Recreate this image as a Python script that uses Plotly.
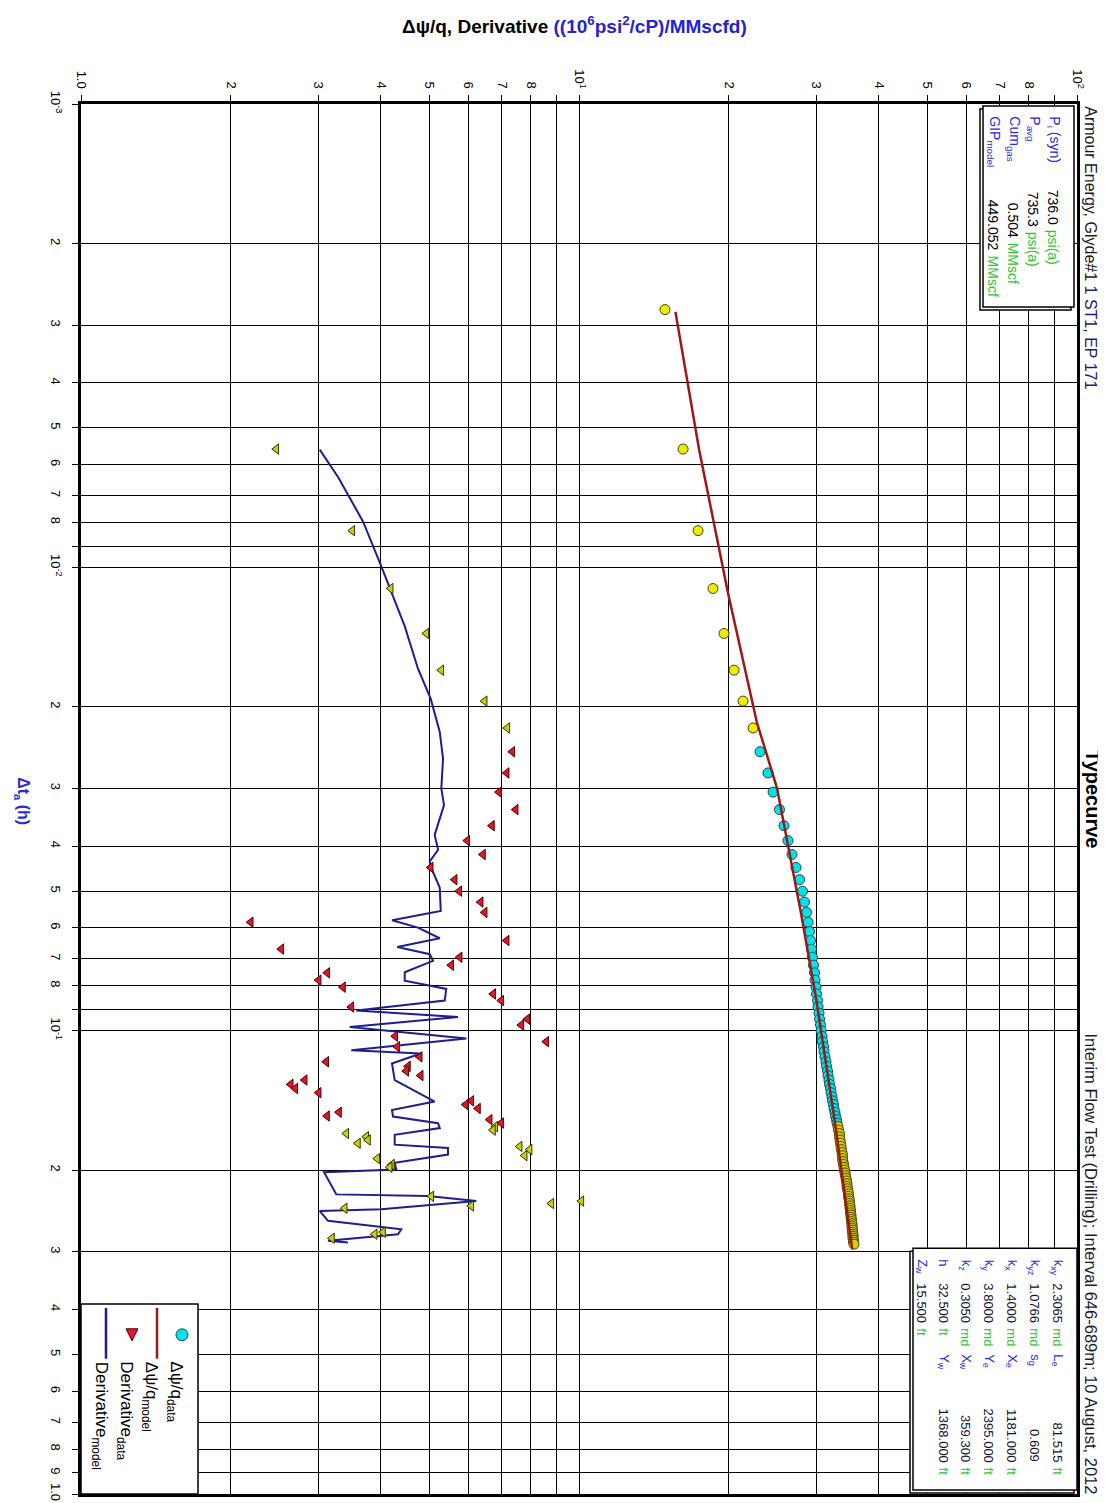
import plotly.graph_objects as go

# ---------------- data ----------------
# Δψ/q data (circles); time in hours
t_q_excl_early = [0.002778, 0.005556, 0.008333, 0.01111, 0.01389, 0.01667, 0.01944, 0.02222]
q_excl_early = [14.88, 16.18, 17.34, 18.58, 19.55, 20.48, 21.35, 22.36]

t_q_match = [0.025, 0.02778, 0.03056, 0.03333, 0.03611, 0.03889, 0.04167, 0.04444, 0.04722, 0.05,
             0.05278, 0.05556, 0.05833, 0.06111, 0.06389, 0.06667, 0.06944, 0.07222, 0.075, 0.07778,
             0.08056, 0.08333, 0.08611, 0.08889, 0.09167, 0.09444, 0.09722, 0.1, 0.1028, 0.1056,
             0.1083, 0.1111, 0.1139, 0.1167, 0.1194, 0.1222, 0.125, 0.1278, 0.1306, 0.1333,
             0.1361, 0.1389, 0.1417, 0.1444, 0.1472, 0.15, 0.1528, 0.1556, 0.1583]
q_match = [23.09, 23.96, 24.53, 25.27, 25.80, 26.28, 26.77, 27.27, 27.72, 28.10,
           28.36, 28.63, 28.83, 29.03, 29.16, 29.30, 29.43, 29.57, 29.71, 29.78,
           29.92, 29.99, 30.13, 30.20, 30.34, 30.41, 30.55, 30.62, 30.76, 30.83,
           30.98, 31.05, 31.19, 31.33, 31.41, 31.55, 31.63, 31.77, 31.85, 31.99,
           32.07, 32.21, 32.29, 32.44, 32.51, 32.66, 32.74, 32.89, 32.97]

t_q_excl_late = [0.1611, 0.1639, 0.1667, 0.1694, 0.1722, 0.175, 0.1778, 0.1806, 0.1833, 0.1861,
                 0.1889, 0.1917, 0.1944, 0.1972, 0.2, 0.2028, 0.2056, 0.2083, 0.2111, 0.2139,
                 0.2167, 0.2194, 0.2222, 0.225, 0.2278, 0.2306, 0.2333, 0.2361, 0.2389, 0.2417,
                 0.2444, 0.2472, 0.25, 0.2528, 0.2556, 0.2583, 0.2611, 0.2639, 0.2667, 0.2694,
                 0.2722, 0.275, 0.2778, 0.2806, 0.2833, 0.2861, 0.2889]
q_excl_late = [33.12, 33.20, 33.35, 33.35, 33.43, 33.51, 33.58, 33.66, 33.74, 33.82,
               33.82, 33.89, 33.97, 34.05, 34.13, 34.21, 34.29, 34.37, 34.45, 34.53,
               34.53, 34.61, 34.69, 34.77, 34.77, 34.85, 34.93, 34.93, 35.01, 35.01,
               35.09, 35.09, 35.17, 35.17, 35.25, 35.25, 35.34, 35.34, 35.34, 35.42,
               35.42, 35.50, 35.50, 35.50, 35.58, 35.58, 35.66]

# Δψ/q model
t_q_model = [0.00281, 0.00558, 0.01137, 0.02157, 0.02995, 0.05549, 0.0850, 0.1563, 0.2966]
q_model = [15.62, 17.43, 19.92, 22.75, 24.98, 27.89, 29.92, 32.61, 35.38]

# Derivative data (triangles)
t_d_excl_early = [0.005556, 0.008333, 0.01111, 0.01389, 0.01667, 0.01944, 0.02222]
d_excl_early = [2.467, 3.506, 4.187, 4.937, 5.290, 6.466, 7.178]

t_d_match = [0.025, 0.02778, 0.03056, 0.03333, 0.03611, 0.03889, 0.04167, 0.04444, 0.04722, 0.05,
             0.05278, 0.05556, 0.05833, 0.06389, 0.06667, 0.06944, 0.07222, 0.075, 0.07778, 0.08056,
             0.08333, 0.08611, 0.08889, 0.09444, 0.09722, 0.1028, 0.1056, 0.1083, 0.1139, 0.1167,
             0.1194, 0.1222, 0.125, 0.1278, 0.1306, 0.1333, 0.1361, 0.1417, 0.1444, 0.1472,
             0.15, 0.1528, 0.1556, 0.1583]
d_match = [7.347, 7.158, 6.908, 7.463, 6.687, 5.967, 6.415, 5.038, 5.628, 5.749,
           6.347, 6.466, 2.192, 7.158, 2.525, 5.760, 5.540, 3.123, 3.001, 3.358,
           6.727, 6.982, 3.490, 7.877, 7.660, 4.277, 8.597, 4.317, 4.788, 3.108,
           4.535, 4.500, 4.810, 2.813, 2.637, 2.694, 3.001, 6.078, 5.923, 6.269,
           3.297, 3.119, 6.617, 6.982]

t_d_excl_late = [0.1611, 0.1639, 0.1667, 0.1694, 0.1722, 0.175, 0.1778, 0.1806, 0.1861, 0.1889,
                 0.1944, 0.1972, 0.2278, 0.2333, 0.2361, 0.2389, 0.2417, 0.2722, 0.275, 0.2806]
d_excl_late = [6.79, 6.72, 3.410, 3.740, 3.770, 3.599, 7.60, 7.96, 7.78, 3.936,
               4.212, 4.168, 5.052, 10.11, 8.80, 6.078, 3.385, 4.041, 3.889, 3.192]

# Derivative model
t_d_model = [0.00557, 0.00638, 0.00797, 0.00995, 0.01339, 0.01655, 0.01923, 0.02267, 0.02586, 0.0300,
             0.0326, 0.03779, 0.04069, 0.04311, 0.04454, 0.04917, 0.05518, 0.05778, 0.05991, 0.06317,
             0.06595, 0.06838, 0.07067, 0.07482, 0.07801, 0.08126, 0.0861, 0.09044, 0.09345, 0.09818,
             0.1040, 0.1102, 0.1120, 0.1177, 0.1279, 0.1399, 0.1422, 0.1483, 0.1532, 0.1584,
             0.1623, 0.1678, 0.1762, 0.1791, 0.1851, 0.1929, 0.1994, 0.2020, 0.2256, 0.2275,
             0.2332, 0.2430, 0.2449, 0.2573, 0.2683, 0.2750, 0.2841, 0.2865]
d_model = [3.015, 3.282, 3.685, 4.009, 4.467, 4.750, 5.038, 5.253, 5.333, 5.291,
           5.357, 5.131, 5.212, 5.015, 5.052, 5.253, 5.277, 4.212, 4.750, 5.253,
           4.317, 5.015, 5.092, 4.467, 4.467, 5.414, 5.374, 3.571, 5.715, 3.464,
           5.939, 3.490, 4.810, 4.212, 4.265, 5.015, 5.131, 4.212, 4.232, 5.212,
           5.253, 4.265, 4.265, 5.457, 5.457, 4.265, 4.297, 3.076, 3.256, 4.976,
           6.220, 4.009, 3.015, 3.133, 4.397, 4.330, 3.133, 3.437]

# Axis ticks
x_tick_vals = [1, 2, 3, 4, 5, 6, 7, 8, 9, 10, 20, 30, 40, 50, 60, 70, 80, 90, 100]
x_tick_text = ["1.0", "2", "3", "4", "5", "6", "7", "8", "", "10<sup>1</sup>",
               "2", "3", "4", "5", "6", "7", "8", "", "10<sup>2</sup>"]
y_tick_vals = [0.001, 0.002, 0.003, 0.004, 0.005, 0.006, 0.007, 0.008, 0.009,
               0.01, 0.02, 0.03, 0.04, 0.05, 0.06, 0.07, 0.08, 0.09,
               0.1, 0.2, 0.3, 0.4, 0.5, 0.6, 0.7, 0.8, 0.9, 1.0]
y_tick_text = ["10<sup>-3</sup>", "2", "3", "4", "5", "6", "7", "8", "",
               "10<sup>-2</sup>", "2", "3", "4", "5", "6", "7", "8", "",
               "10<sup>-1</sup>", "2", "3", "4", "5", "6", "7", "8", "9", "1.0"]

# Info box texts
top_labels = ["P<sub>i</sub> (syn)", "P<sub>avg</sub>", "Cum<sub>gas</sub>", "GIP<sub>model</sub>"]
top_values = ["736.0", "735.3", "0.504", "449.052"]
top_units = ["psi(a)", "psi(a)", "MMscf", "MMscf"]

bot_labels1 = ["k<sub>xy</sub>", "k<sub>yz</sub>", "k<sub>x</sub>", "k<sub>y</sub>", "k<sub>z</sub>", "h", "Z<sub>w</sub>"]
bot_values1 = ["2.3065", "1.0766", "1.4000", "3.8000", "0.3050", "32.500", "15.500"]
bot_units1 = ["md", "md", "md", "md", "md", "ft", "ft"]
bot_labels2 = ["L<sub>e</sub>", "s<sub>g</sub>", "X<sub>e</sub>", "Y<sub>e</sub>", "X<sub>w</sub>", "Y<sub>w</sub>", ""]
bot_values2 = ["81.515", "0.609", "1181.000", "2395.000", "359.300", "1368.000", ""]
bot_units2 = ["ft", "", "ft", "ft", "ft", "ft", ""]

legend_labels = ["Δψ/q<sub>data</sub>", "Δψ/q<sub>model</sub>", "Derivative<sub>data</sub>", "Derivative<sub>model</sub>"]

# ---------------- layout helpers (pixel -> paper) ----------------
L, R, T, B = 73, 1069, 96, 1493
W, H = 1106, 1503


def PX(px):
    return (px - L) / (R - L)


def PY(py):
    return (B - py) / (B - T)


FONT = "Liberation Sans, Arial, sans-serif"
BLUE = "#2a2ad8"
GREEN = "#2fc62f"
YEL = "#eded00"
CYAN = "#00e3ea"
RED = "#e3152b"
YTRI = "#c9cf00"

fig = go.Figure()

# Derivative model (blue)
fig.add_trace(go.Scatter(x=d_model, y=t_d_model, mode="lines",
                         line=dict(color="#1e1e8e", width=2)))
# Derivative data
fig.add_trace(go.Scatter(x=d_excl_early, y=t_d_excl_early, mode="markers",
                         marker=dict(symbol="triangle-left", size=9, color=YTRI,
                                     line=dict(color="#333300", width=1))))
fig.add_trace(go.Scatter(x=d_match, y=t_d_match, mode="markers",
                         marker=dict(symbol="triangle-left", size=9, color=RED,
                                     line=dict(color="#4a0000", width=1))))
fig.add_trace(go.Scatter(x=d_excl_late, y=t_d_excl_late, mode="markers",
                         marker=dict(symbol="triangle-left", size=9, color=YTRI,
                                     line=dict(color="#333300", width=1))))
# Δψ/q data
fig.add_trace(go.Scatter(x=q_excl_early, y=t_q_excl_early, mode="markers",
                         marker=dict(symbol="circle", size=10, color=YEL,
                                     line=dict(color="#444400", width=1))))
fig.add_trace(go.Scatter(x=q_match, y=t_q_match, mode="markers",
                         marker=dict(symbol="circle", size=10, color=CYAN,
                                     line=dict(color="#124a55", width=1))))
fig.add_trace(go.Scatter(x=q_excl_late, y=t_q_excl_late, mode="markers",
                         marker=dict(symbol="circle", size=10, color="#d8d000",
                                     line=dict(color="#4a4400", width=1))))
# Δψ/q model (red)
fig.add_trace(go.Scatter(x=q_model, y=t_q_model, mode="lines",
                         line=dict(color="#9c1818", width=2.5)))

axis_common = dict(type="log", showgrid=True, gridcolor="black", gridwidth=1.4,
                   showline=True, linecolor="black", linewidth=2.5, mirror=True,
                   ticks="outside", ticklen=6, tickcolor="black", tickwidth=1.2,
                   tickangle=90, zeroline=False,
                   tickfont=dict(family=FONT, size=13, color="black"))

fig.update_layout(
    width=W, height=H,
    margin=dict(l=L, r=W - R, t=T, b=H - B),
    paper_bgcolor="white", plot_bgcolor="white",
    showlegend=False,
    font=dict(family=FONT, color="black"),
    xaxis=dict(range=[0, 2], side="top", tickvals=x_tick_vals, ticktext=x_tick_text,
               ticklabelstandoff=2, **axis_common),
    yaxis=dict(range=[0, -3], tickvals=y_tick_vals, ticktext=y_tick_text,
               ticklabelstandoff=6, **axis_common),
)

shapes = []
ann = []


def rect(x0, y0, x1, y1, fill="white", lw=1.5):
    shapes.append(dict(type="rect", xref="paper", yref="paper", layer="above",
                       x0=PX(x0), x1=PX(x1), y0=PY(y1), y1=PY(y0),
                       line=dict(color="black", width=lw), fillcolor=fill))


def text(s, px, py, size, color="black", yanchor="top", angle=90, xanchor="center"):
    # rotated text renders a little to the right of its anchor; compensate
    if angle == 90:
        px = px - 0.42 * size
    ann.append(dict(text=s, x=PX(px), y=PY(py), xref="paper", yref="paper",
                    showarrow=False, textangle=angle, xanchor=xanchor, yanchor=yanchor,
                    font=dict(family=FONT, size=size, color=color), borderpad=0))


# top-right info box (with shadow)
rect(972, 101, 1063, 303, fill="white")
rect(975, 98, 1066, 300, fill="white")
top_cols = [1051, 1031, 1011, 991]
top_val_end = [218, 220, 231, 244]
for i in range(4):
    text(top_labels[i], top_cols[i], 107, 14, BLUE, "top")
    text(top_values[i], top_cols[i], top_val_end[i], 14, "black", "bottom")
    text(top_units[i], top_cols[i], top_val_end[i] + 3, 14, GREEN, "top")

# bottom-right info box (with shadow)
rect(902, 1249, 1066, 1492, fill="white")
rect(905, 1246, 1069, 1489, fill="white")
bot_cols = [1055, 1032, 1009, 986, 963, 941, 919]
for i in range(7):
    c = bot_cols[i]
    text(bot_labels1[i], c, 1256, 13, BLUE, "top")
    text(bot_values1[i], c, 1322, 13, "#111133", "bottom")
    text(bot_units1[i], c, 1325, 13, GREEN, "top")
    if bot_labels2[i]:
        text(bot_labels2[i], c, 1351, 13, BLUE, "top")
    if bot_values2[i]:
        text(bot_values2[i], c, 1462, 13, "#111133", "bottom")
    if bot_units2[i]:
        text(bot_units2[i], c, 1465, 13, GREEN, "top")

# bottom-left legend
rect(73, 1302, 190, 1493, fill="white", lw=1.5)
shapes.append(dict(type="circle", xref="paper", yref="paper", layer="above",
                   x0=PX(168), x1=PX(180), y0=PY(1339), y1=PY(1327),
                   fillcolor=CYAN, line=dict(color="#124a55", width=1)))
shapes.append(dict(type="line", xref="paper", yref="paper", layer="above",
                   x0=PX(149), x1=PX(149), y0=PY(1306), y1=PY(1357),
                   line=dict(color="#9c1818", width=2.5)))
tri = "M {:.5f} {:.5f} L {:.5f} {:.5f} L {:.5f} {:.5f} Z".format(
    PX(118), PY(1327), PX(130), PY(1327), PX(124), PY(1339))
shapes.append(dict(type="path", xref="paper", yref="paper", layer="above", path=tri,
                   fillcolor=RED, line=dict(color="#4a0000", width=1)))
shapes.append(dict(type="line", xref="paper", yref="paper", layer="above",
                   x0=PX(98), x1=PX(98), y0=PY(1306), y1=PY(1357),
                   line=dict(color="#1e1e8e", width=2.5)))
leg_cols = [174, 149, 124, 99]
for i in range(4):
    text(legend_labels[i], leg_cols[i], 1359, 17, "black", "top")

# titles
text("<b>Δψ/q, Derivative <span style='color:#2323d0'>((10<sup>6</sup>psi<sup>2</sup>/cP)/MMscfd)</span></b>",
     566, 17, 19, "black", "middle", angle=0)
text("<b>Δt<sub>a</sub> (h)</b>", 21, 797, 16, "#2a2ad8", "middle")
text("Armour Energy, Glyde#1 <span style='color:#1c1c70'>1 ST1, EP 171</span>", 1089, 97, 16, "#1a1a1a", "top")
text("<b>Typecurve</b>", 1093, 795, 20, "black", "middle")
text("Interim Flow Test (Drilling); Interval 646-689m; 10 August, 2012", 1089, 1494, 16.5, "#1a1a2a", "bottom")

fig.update_layout(shapes=shapes, annotations=ann)
fig.write_html("out.html")
